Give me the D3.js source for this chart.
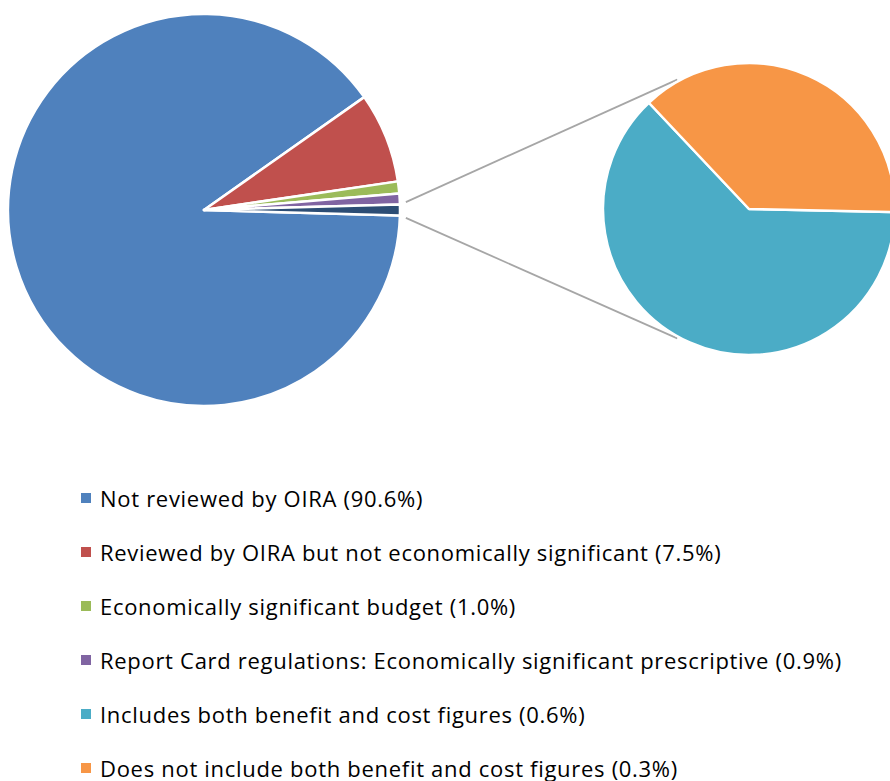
<!DOCTYPE html>
<html><head><meta charset="utf-8">
<script src="https://cdn.jsdelivr.net/npm/d3@7"></script>
<style>html,body{margin:0;padding:0;background:#fff;overflow:hidden}</style>
</head><body>
<svg id="chart" width="890" height="781"></svg>
<script>
// ---- data ----
const mainCategories = ["Not reviewed by OIRA", "Reviewed by OIRA but not economically significant", "Economically significant budget", "Report Card regulations: Economically significant prescriptive"];
const mainValues = [90.6, 7.5, 1.0, 0.9];
const secondaryCategories = ["Includes both benefit and cost figures", "Does not include both benefit and cost figures"];
const secondaryValues = [0.57, 0.34];
const legendLabels = [
  "Not reviewed by OIRA (90.6%)",
  "Reviewed by OIRA but not economically significant (7.5%)",
  "Economically significant budget (1.0%)",
  "Report Card regulations: Economically significant prescriptive (0.9%)",
  "Includes both benefit and cost figures (0.6%)",
  "Does not include both benefit and cost figures (0.3%)"
];
const mainColors = ["#4F81BD", "#C0504D", "#9BBB59", "#8064A2"];
const otherColor = "#2C4D75";
const secondaryColors = ["#4BACC6", "#F79646"];

// ---- layout ----
const svg = d3.select("#chart");
const deg = Math.PI / 180;
const mainC = {x: 204, y: 210, r: 196};
const secC = {x: 749, y: 209, r: 146};

const otherValue = d3.sum(secondaryValues);
const mainAll = mainValues.concat([otherValue]);
const total = d3.sum(mainAll);
const otherHalf = (otherValue / total) * Math.PI;
const mainStart = Math.PI / 2 + otherHalf;

const mainPie = d3.pie().sort(null).value(d => d)
  .startAngle(mainStart).endAngle(mainStart + 2 * Math.PI);
const mainArcs = mainPie(mainAll);
const arcMain = d3.arc().innerRadius(0).outerRadius(mainC.r);

const gMain = svg.append("g").attr("transform", `translate(${mainC.x},${mainC.y})`);
gMain.selectAll("path").data(mainArcs).join("path")
  .attr("d", arcMain)
  .attr("fill", (d, i) => i < mainColors.length ? mainColors[i] : otherColor)
  .attr("stroke", "#fff").attr("stroke-width", 2.5).attr("stroke-linejoin", "round");

// secondary pie
const secStart = Math.PI / 2 + 1.2 * deg;
const secPie = d3.pie().sort(null).value(d => d)
  .startAngle(secStart).endAngle(secStart + 2 * Math.PI);
const secArcs = secPie(secondaryValues);
const arcSec = d3.arc().innerRadius(0).outerRadius(secC.r);

// connector lines
const otherArc = mainArcs[mainArcs.length - 1];
const pt = (c, a, r) => [c.x + r * Math.sin(a), c.y - r * Math.cos(a)];
const connAngle = 29 * deg;
const lines = [
  [pt(mainC, otherArc.startAngle - 0.6 * deg, mainC.r + 6), pt(secC, -connAngle, secC.r + 2)],
  [pt(mainC, otherArc.endAngle + 0.6 * deg, mainC.r + 6), pt(secC, Math.PI + connAngle, secC.r + 2)]
];
svg.append("g").selectAll("line").data(lines).join("line")
  .attr("x1", d => d[0][0]).attr("y1", d => d[0][1])
  .attr("x2", d => d[1][0]).attr("y2", d => d[1][1])
  .attr("stroke", "#A6A6A6").attr("stroke-width", 1.8);

const gSec = svg.append("g").attr("transform", `translate(${secC.x},${secC.y})`);
gSec.selectAll("path").data(secArcs).join("path")
  .attr("d", arcSec)
  .attr("fill", (d, i) => secondaryColors[i])
  .attr("stroke", "#fff").attr("stroke-width", 2.5).attr("stroke-linejoin", "round");

// legend
const legendColors = mainColors.concat(secondaryColors);
const ly = d3.scalePoint().domain(d3.range(legendLabels.length)).range([500, 770]);
const gLeg = svg.append("g");
const rows = gLeg.selectAll("g").data(legendLabels).join("g")
  .attr("transform", (d, i) => `translate(0,${ly(i)})`);
rows.append("rect").attr("x", 81).attr("y", -7).attr("width", 10).attr("height", 10)
  .attr("fill", (d, i) => legendColors[i]);
rows.append("text").attr("x", 100).attr("y", 7)
  .attr("font-family", "'Open Sans', 'Liberation Sans', sans-serif").attr("font-size", 22)
  .attr("letter-spacing", "0.7px")
  .attr("fill", "#000").text(d => d);
</script>
</body></html>
